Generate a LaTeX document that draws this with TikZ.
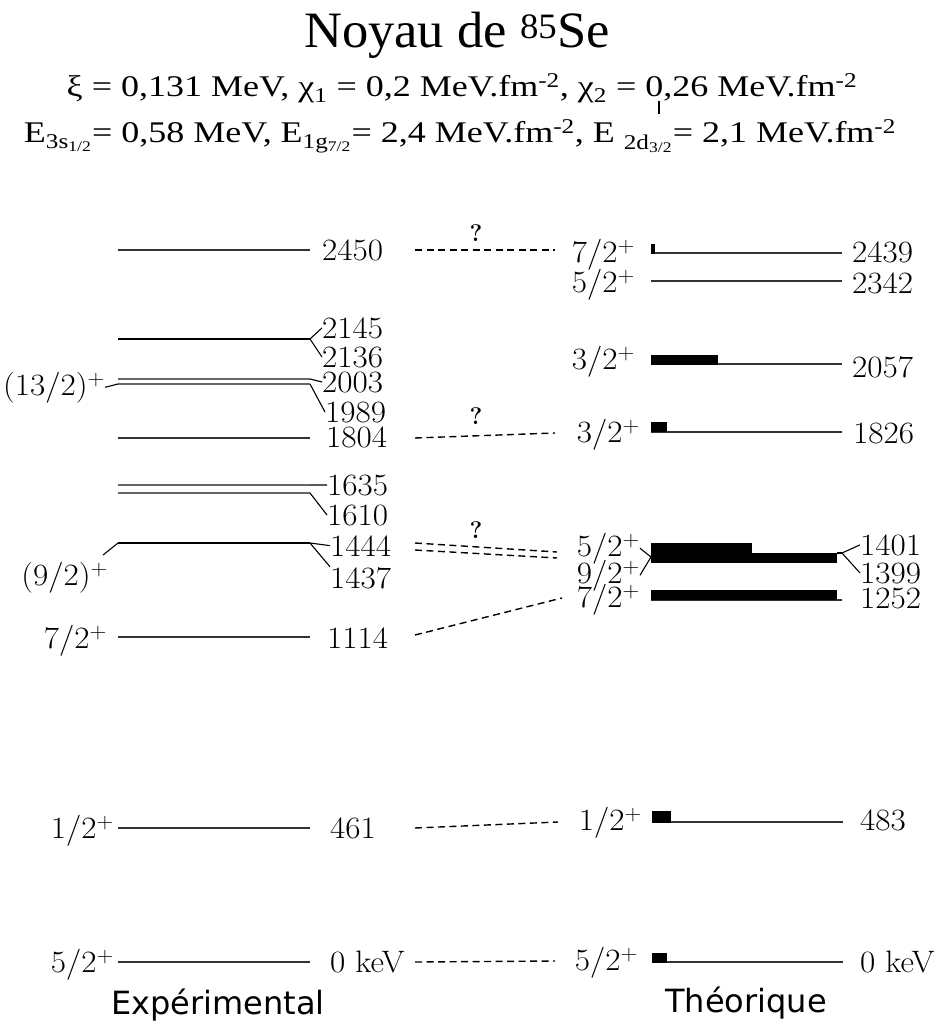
\documentclass[tikz,border=0pt]{standalone}
\usepackage{fontspec}
\newfontfamily\timesf{Liberation Serif}
\newfontfamily\dejavu{DejaVu Sans}
\begin{document}
\begin{tikzpicture}[x=1pt,y=-1pt,
  lab/.style={font=\fontsize{31}{32}\selectfont, inner sep=0pt, xscale=1.07},
  lvl/.style={line width=1.3pt, black!80},
  dbl/.style={line width=1.1pt, black!60},
  thk/.style={line width=2.8pt, black},
  brk/.style={line width=1.1pt, black},
  bar/.style={fill=black, draw=none},
  dsh/.style={line width=1.4pt, dash pattern=on 7pt off 4.5pt},
  qm/.style={font=\bfseries\fontsize{24}{26}\selectfont, inner sep=0pt},
  hdr/.style={anchor=base, inner sep=0pt, font=\timesf\fontsize{30}{32}\selectfont, xscale=1.2},
  head/.style={font=\dejavu\fontsize{32}{34}\selectfont, inner sep=0pt}]
\useasboundingbox[fill=white] (0,0) rectangle (937,1024);

% ---------- header ----------
\node[anchor=base, inner sep=0pt, font=\timesf\fontsize{51}{53}\selectfont, xscale=1.03] (title) at (457,48) {Noyau de \textsuperscript{85}Se};
\node[hdr] (par1) at (462,97)
  {ξ = 0,131 MeV, χ\textsubscript{1} = 0,2 MeV.fm\textsuperscript{-2}, χ\textsubscript{2} = 0,26 MeV.fm\textsuperscript{-2}};
\coordinate (tk1) at (659,101); \coordinate (tk2) at (659,114);
\draw[line width=2pt] (tk1) -- (tk2);
\node[hdr] (par2) at (460,143)
  {E\textsubscript{3s\textsubscript{1/2}}= 0,58 MeV, E\textsubscript{1g\textsubscript{7/2}}= 2,4 MeV.fm\textsuperscript{-2}, E \textsubscript{2d\textsubscript{3/2}}= 2,1 MeV.fm\textsuperscript{-2}};

% ---------- experimental levels ----------
\coordinate (e2450a) at (118,250); \coordinate (e2450b) at (310,250);
\draw[lvl] (e2450a) -- (e2450b);
\node[lab, anchor=base west] (l2450) at (322,260) {2450};

\coordinate (e2145a) at (118,339); \coordinate (e2145b) at (310,339);
\draw[thk] (e2145a) -- (e2145b);
\node[lab, anchor=base west] (l2145) at (322,338) {2145};
\node[lab, anchor=base west] (l2136) at (322,367) {2136};
\draw[brk] (e2145b) -- (l2145.west);
\draw[brk] (e2145b) -- (l2136.west);

\coordinate (e2003a) at (118,379); \coordinate (e2003b) at (310,379);
\coordinate (e1989a) at (118,384); \coordinate (e1989b) at (310,384);
\draw[dbl] (e2003a) -- (e2003b);
\draw[dbl] (e1989a) -- (e1989b);
\node[lab, anchor=base west] (l2003) at (322,392) {2003};
\node[lab, anchor=base west] (l1989) at (325,422) {1989};
\draw[brk] (e2003b) -- (l2003.west);
\draw[brk] (e1989b) -- (l1989.west);
\node[lab, anchor=base east] (s2003) at (105,395) {(13/2)\textsuperscript{+}};
\draw[brk] (s2003.east) -- (e1989a);

\coordinate (e1804a) at (118,438); \coordinate (e1804b) at (310,438);
\draw[lvl] (e1804a) -- (e1804b);
\node[lab, anchor=base west] (l1804) at (326,447) {1804};

\coordinate (e1635a) at (118,485); \coordinate (e1635b) at (310,485);
\coordinate (e1610a) at (118,493); \coordinate (e1610b) at (310,493);
\draw[dbl] (e1635a) -- (e1635b);
\draw[dbl] (e1610a) -- (e1610b);
\node[lab, anchor=base west] (l1635) at (327,495) {1635};
\node[lab, anchor=base west] (l1610) at (327,525) {1610};
\draw[brk] (e1635b) -- (l1635.west);
\draw[brk] (e1610b) -- (l1610.west);

\coordinate (e1444a) at (118,543); \coordinate (e1444b) at (310,543);
\draw[line width=2.4pt] (e1444a) -- (e1444b);
\node[lab, anchor=base west] (l1444) at (330,556) {1444};
\node[lab, anchor=base west] (l1437) at (330,588) {1437};
\draw[brk] (e1444b) -- (l1444.west);
\draw[brk] (e1444b) -- (l1437.north west);
\node[lab, anchor=base east] (s1444) at (108,585) {(9/2)\textsuperscript{+}};
\coordinate (c1444) at (103,555);
\draw[brk] (c1444) -- (e1444a);

\coordinate (e1114a) at (118,637); \coordinate (e1114b) at (310,637);
\draw[lvl] (e1114a) -- (e1114b);
\node[lab, anchor=base east] (s1114) at (107,648) {7/2\textsuperscript{+}};
\node[lab, anchor=base west] (l1114) at (327,648) {1114};

\coordinate (e461a) at (118,828); \coordinate (e461b) at (310,828);
\draw[lvl] (e461a) -- (e461b);
\node[lab, anchor=base east] (s461) at (114,838) {1/2\textsuperscript{+}};
\node[lab, anchor=base west] (l461) at (330,838) {461};

\coordinate (e0a) at (118,962); \coordinate (e0b) at (310,962);
\draw[lvl] (e0a) -- (e0b);
\node[lab, anchor=base east] (s0) at (114,972) {5/2\textsuperscript{+}};
\node[lab, anchor=base west] (l0) at (330,972) {0 keV};

\node[head, anchor=base] (hexp) at (218,1014) {Expérimental};

% ---------- theoretical levels ----------
\coordinate (t2439a) at (651,253); \coordinate (t2439b) at (842,253);
\draw[lvl] (t2439a) -- (t2439b);
\fill[bar] (651,244) rectangle (655,254);
\node[lab, anchor=base east] (r2439) at (635,262) {7/2\textsuperscript{+}};
\node[lab, anchor=base west] (n2439) at (852,262) {2439};

\coordinate (t2342a) at (651,281); \coordinate (t2342b) at (842,281);
\draw[lvl] (t2342a) -- (t2342b);
\node[lab, anchor=base east] (r2342) at (635,292) {5/2\textsuperscript{+}};
\node[lab, anchor=base west] (n2342) at (852,293) {2342};

\coordinate (t2057a) at (651,364); \coordinate (t2057b) at (842,364);
\draw[lvl] (t2057a) -- (t2057b);
\fill[bar] (651,355) rectangle (718,365);
\node[lab, anchor=base east] (r2057) at (635,369) {3/2\textsuperscript{+}};
\node[lab, anchor=base west] (n2057) at (852,377) {2057};

\coordinate (t1826a) at (651,432); \coordinate (t1826b) at (842,432);
\draw[lvl] (t1826a) -- (t1826b);
\fill[bar] (651,422) rectangle (667,432);
\node[lab, anchor=base east] (r1826) at (640,442) {3/2\textsuperscript{+}};
\node[lab, anchor=base west] (n1826) at (853,443) {1826};

\coordinate (t1401a) at (651,557); \coordinate (t1401b) at (842,553);
\fill[bar] (651,543) rectangle (752,563);
\fill[bar] (651,553) rectangle (837,563);
\draw[brk] (837,553) -- (t1401b);
\node[lab, anchor=base east] (r1401) at (640,556) {5/2\textsuperscript{+}};
\node[lab, anchor=base east] (r1399) at (640,583) {9/2\textsuperscript{+}};
\node[lab, anchor=base west] (n1401) at (860,555) {1401};
\node[lab, anchor=base west] (n1399) at (860,583) {1399};
\draw[brk] (r1401.east) -- (t1401a) -- (r1399.east);
\draw[brk] (n1401.west) -- (t1401b) -- (n1399.west);

\coordinate (t1252a) at (651,600); \coordinate (t1252b) at (842,600);
\draw[lvl] (t1252a) -- (t1252b);
\fill[bar] (651,590) rectangle (837,600);
\node[lab, anchor=base east] (r1252) at (640,607) {7/2\textsuperscript{+}};
\node[lab, anchor=base west] (n1252) at (860,608) {1252};

\coordinate (t483a) at (652,822); \coordinate (t483b) at (843,822);
\draw[lvl] (t483a) -- (t483b);
\fill[bar] (652,811) rectangle (671,823);
\node[lab, anchor=base east] (r483) at (642,830) {1/2\textsuperscript{+}};
\node[lab, anchor=base west] (n483) at (860,830) {483};

\coordinate (t0a) at (652,962); \coordinate (t0b) at (843,962);
\draw[lvl] (t0a) -- (t0b);
\fill[bar] (652,953) rectangle (667,963);
\node[lab, anchor=base east] (r0) at (638,970) {5/2\textsuperscript{+}};
\node[lab, anchor=base west] (n0) at (860,972) {0 keV};

\node[head, anchor=base] (hth) at (746,1012) {Théorique};

% ---------- correspondences ----------
\coordinate (q1a) at (415,250); \coordinate (q1b) at (555,250);
\draw[dsh] (q1a) -- (q1b);
\node[qm] (qm1) at (476,233) {?};

\coordinate (q2a) at (415,438); \coordinate (q2b) at (555,433);
\draw[dsh] (q2a) -- (q2b);
\node[qm] (qm2) at (476,416) {?};

\coordinate (q3a) at (415,543); \coordinate (q3b) at (557,552);
\coordinate (q4a) at (415,550); \coordinate (q4b) at (557,558);
\draw[dsh] (q3a) -- (q3b);
\draw[dsh] (q4a) -- (q4b);
\node[qm] (qm3) at (476,530) {?};

\coordinate (q5a) at (415,635); \coordinate (q5b) at (562,598);
\draw[dsh] (q5a) -- (q5b);

\coordinate (q6a) at (415,828); \coordinate (q6b) at (558,822);
\draw[dsh] (q6a) -- (q6b);

\coordinate (q7a) at (415,962); \coordinate (q7b) at (555,961);
\draw[dsh] (q7a) -- (q7b);
\end{tikzpicture}
\end{document}
